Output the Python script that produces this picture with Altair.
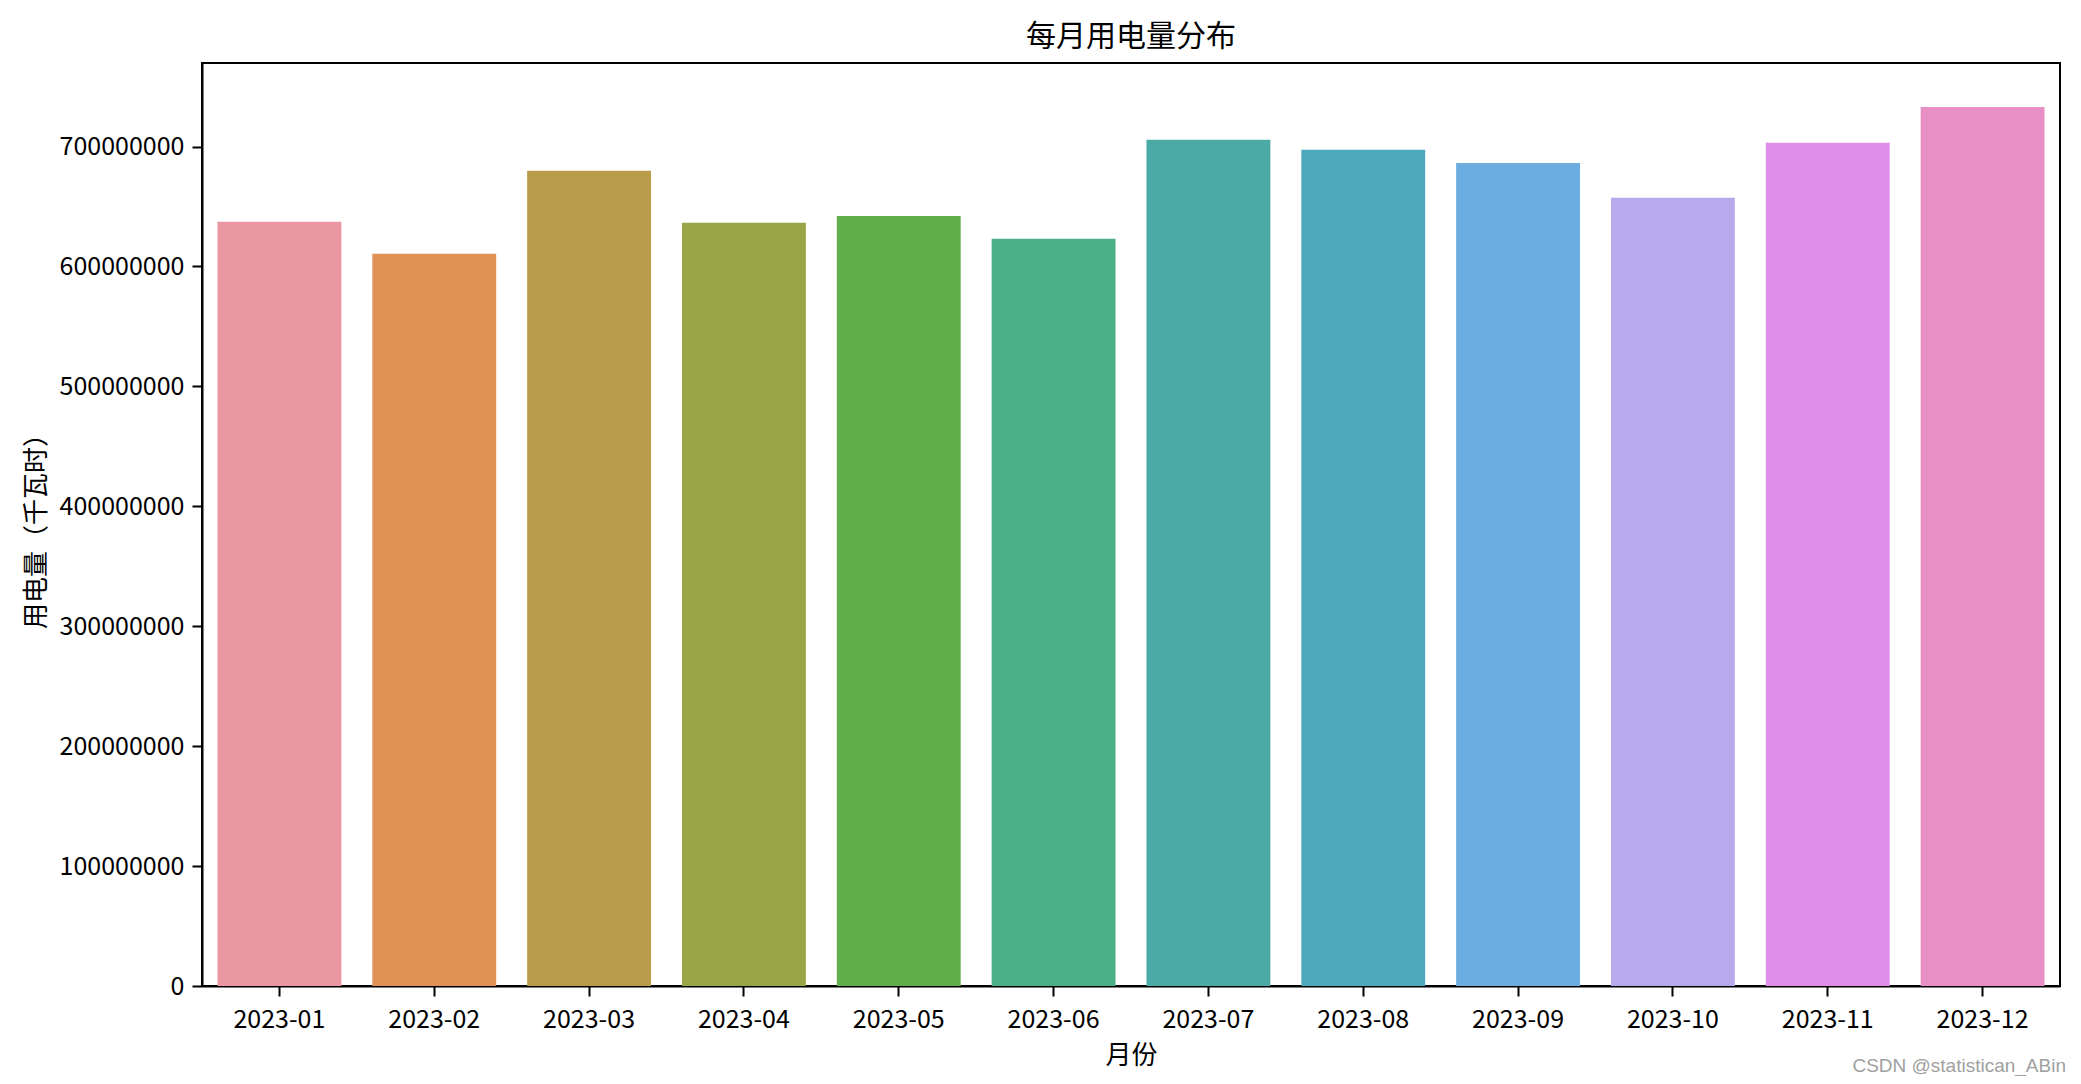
import altair as alt
import pandas as pd

months = ["2023-01", "2023-02", "2023-03", "2023-04", "2023-05", "2023-06",
          "2023-07", "2023-08", "2023-09", "2023-10", "2023-11", "2023-12"]
usage = [637300000, 610600000, 679800000, 636400000, 642200000, 623100000,
         705600000, 697300000, 686400000, 657300000, 703100000, 733100000]
colors = ["#EA96A3", "#E09155", "#B89C4A", "#99A546", "#61AF4A", "#4BAF88",
          "#4BAAA6", "#4FA9BC", "#6BADE0", "#B8A8EC", "#DF8EE8", "#E890C5"]
y_ticks = [0, 100000000, 200000000, 300000000, 400000000, 500000000, 600000000, 700000000]
title_text = "每月用电量分布"
x_title = "月份"
y_title = "用电量（千瓦时）"
watermark = "CSDN @statistican_ABin"

df = pd.DataFrame({"month": months, "usage": usage})

W, H = 1858, 923
FONT = "Noto Sans CJK SC"

bars = alt.Chart(df).mark_bar().encode(
    x=alt.X("month:N", sort=months,
            scale=alt.Scale(paddingInner=0.2, paddingOuter=0.1),
            axis=alt.Axis(title=x_title, labelAngle=0, titleX=W / 2, titleY=69,
                          titleBaseline="middle", titleAlign="center",
                          labelPadding=11)),
    y=alt.Y("usage:Q", scale=alt.Scale(domain=[0, 769700000], nice=False, zero=True),
            axis=alt.Axis(title=y_title, values=y_ticks, format="d",
                          titleX=-166, titleY=H / 2, titleAngle=-90,
                          titleBaseline="middle", titleAlign="center",
                          labelPadding=8)),
    color=alt.Color("month:N", sort=months,
                    scale=alt.Scale(domain=months, range=colors), legend=None),
)

wm = alt.Chart(pd.DataFrame({"t": [watermark]})).mark_text(
    align="right", baseline="middle", fontSize=19, color="#A0A0A0",
    font="Liberation Sans"
).encode(text="t:N", x=alt.value(1864), y=alt.value(1003))

chart = alt.layer(bars, wm).properties(
    width=W, height=H,
    title=alt.TitleParams(title_text, fontSize=30, font=FONT, fontWeight="normal",
                          anchor="middle", offset=11, color="black"),
    autosize=alt.AutoSizeParams(type="none"),
    padding={"left": 194, "top": 55, "right": 12, "bottom": 90},
).configure_view(
    stroke="black", strokeWidth=2
).configure_axis(
    grid=False, domainColor="black", domainWidth=2, tickColor="black", tickWidth=2,
    tickSize=10, labelFont=FONT, labelFontSize=25, labelColor="black",
    titleFont=FONT, titleFontSize=26, titleFontWeight="normal", titleColor="black"
)

chart.save("out.html", embed_options={"renderer": "svg", "actions": False})
